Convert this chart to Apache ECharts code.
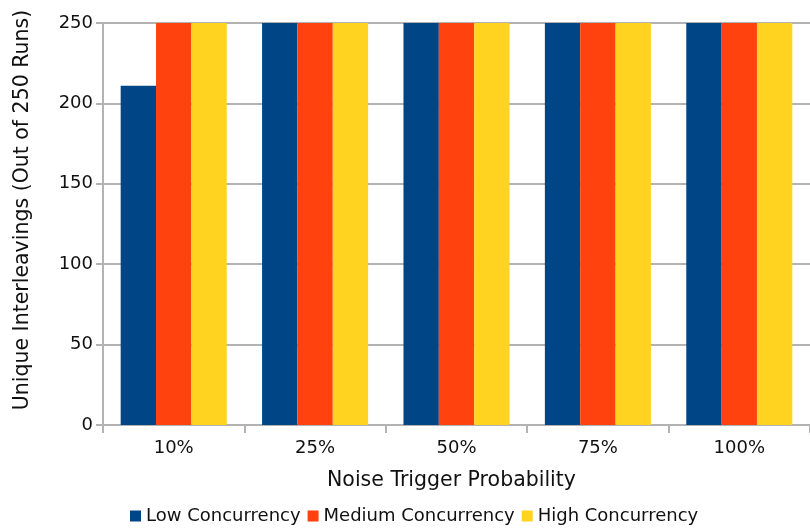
<!DOCTYPE html>
<html>
<head>
<meta charset="utf-8">
<style>
  html, body { margin: 0; padding: 0; background: #ffffff; }
  #chart { width: 810px; height: 528px; }
</style>
<script src="https://cdn.jsdelivr.net/npm/echarts@6/dist/echarts.min.js"></script>
</head>
<body>
<div id="chart"></div>
<script>
// Noise trigger probability levels on the x axis
const categories = ['10%', '25%', '50%', '75%', '100%'];
// Unique interleavings observed per concurrency level (out of 250 runs)
const lowConcurrency = [211, 250, 250, 250, 250];
const mediumConcurrency = [250, 250, 250, 250, 250];
const highConcurrency = [250, 250, 250, 250, 250];
const seriesNames = ['Low Concurrency', 'Medium Concurrency', 'High Concurrency'];
const yTicks = [0, 50, 100, 150, 200, 250];

const FONT = 'DejaVu Sans';
const TEXT = '#111111';
const LINE = '#b3b3b3';
const colors = ['#004586', '#ff420e', '#ffd320'];

const chart = echarts.init(document.getElementById('chart'), null, { renderer: 'canvas' });

const makeSeries = (name, data, color) => ({
  name: name,
  type: 'bar',
  data: data,
  barGap: '0%',
  barCategoryGap: '25%',
  itemStyle: { color: color },
  emphasis: { disabled: true }
});

chart.setOption({
  animation: false,
  backgroundColor: '#ffffff',
  textStyle: { fontFamily: FONT },
  grid: { left: 103, top: 23, width: 716, height: 402, containLabel: false },
  legend: {
    data: seriesNames,
    top: 502,
    left: 125,
    itemWidth: 11,
    itemHeight: 11,
    itemGap: 7,
    icon: 'rect',
    textStyle: { fontFamily: FONT, fontSize: 18, color: TEXT, padding: [0, 0, 0, 0] }
  },
  xAxis: {
    type: 'category',
    data: categories,
    name: 'Noise Trigger Probability',
    nameLocation: 'middle',
    nameGap: 45,
    nameTextStyle: { fontFamily: FONT, fontSize: 20.5, color: TEXT, padding: [0, 10, 0, 0] },
    axisLine: { lineStyle: { color: LINE, width: 2 } },
    axisTick: { show: true, length: 8, lineStyle: { color: LINE, width: 2 } },
    axisLabel: { fontFamily: FONT, fontSize: 18, color: TEXT, margin: 14 },
    splitLine: { show: false }
  },
  yAxis: {
    type: 'value',
    min: yTicks[0],
    max: yTicks[yTicks.length - 1],
    interval: yTicks[1] - yTicks[0],
    name: 'Unique Interleavings (Out of 250 Runs)',
    nameLocation: 'middle',
    nameGap: 70,
    nameTextStyle: { fontFamily: FONT, fontSize: 20.5, color: TEXT, padding: [0, 0, 0, 28] },
    axisLine: { show: true, lineStyle: { color: LINE, width: 2 } },
    axisTick: { show: true, length: 7, lineStyle: { color: LINE, width: 2 } },
    axisLabel: { fontFamily: FONT, fontSize: 18, color: TEXT, margin: 10 },
    splitLine: { show: true, lineStyle: { color: LINE, width: 2 } }
  },
  series: [
    makeSeries(seriesNames[0], lowConcurrency, colors[0]),
    makeSeries(seriesNames[1], mediumConcurrency, colors[1]),
    makeSeries(seriesNames[2], highConcurrency, colors[2])
  ]
});
</script>
</body>
</html>
